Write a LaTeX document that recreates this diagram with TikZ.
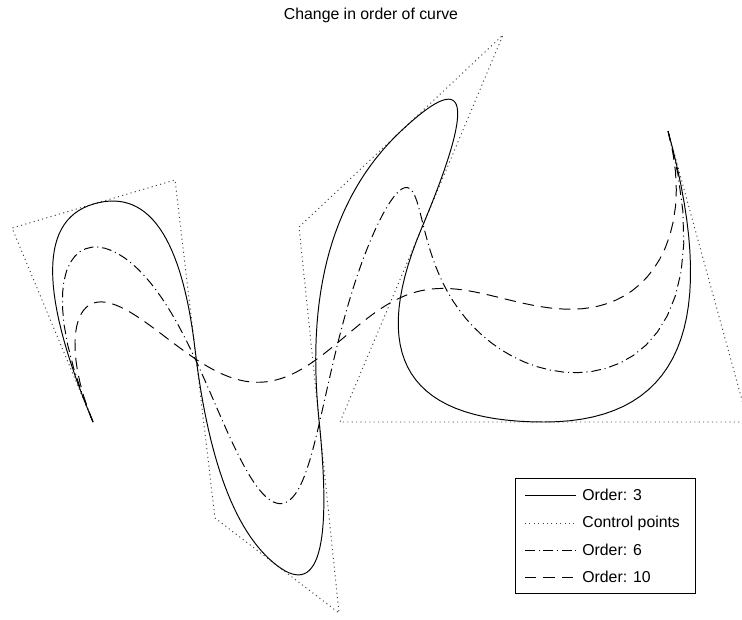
\documentclass[tikz,border=0pt]{standalone}
\usepackage{fontspec}
\setmainfont{Liberation Sans}
\ExplSyntaxOn
\fparray_new:Nn \g_bs_knot_fparray {40}
\fparray_new:Nn \g_bs_N_fparray {40}
\fparray_new:Nn \g_bs_px_fparray {10}
\fparray_new:Nn \g_bs_py_fparray {10}
\int_new:N \l_bs_k_int
\fp_new:N \l_bs_t_fp
\fp_new:N \l_bs_tmax_fp
\fp_new:N \l_bs_x_fp
\fp_new:N \l_bs_y_fp
\tl_new:N \l_bs_path_tl
\tl_new:N \l_bs_cmd_tl
\cs_new_protected:Npn \bs_setpt:nnn #1#2#3
  {
    \fparray_gset:Nnn \g_bs_px_fparray {#1} {#2}
    \fparray_gset:Nnn \g_bs_py_fparray {#1} {#3}
  }
\bs_setpt:nnn {1}{93}{422}
\bs_setpt:nnn {2}{12}{228}
\bs_setpt:nnn {3}{175}{180}
\bs_setpt:nnn {4}{215}{518}
\bs_setpt:nnn {5}{339}{613}
\bs_setpt:nnn {6}{299}{227}
\bs_setpt:nnn {7}{503}{35}
\bs_setpt:nnn {8}{340}{422}
\bs_setpt:nnn {9}{748}{422}
\bs_setpt:nnn {10}{668}{131}
\cs_new:Npn \bs_u:n #1 { \fparray_item:Nn \g_bs_knot_fparray { #1 + 1 } }
\cs_new_protected:Npn \bs_update:nn #1#2
  {
    \fparray_gset:Nnn \g_bs_N_fparray {#1 + 1}
      {
        ( \bs_u:n {#1 + #2 - 1} - \bs_u:n {#1} > 0 ) * ( \l_bs_t_fp - \bs_u:n {#1} )
          / max( \bs_u:n {#1 + #2 - 1} - \bs_u:n {#1} , 1 )
          * \fparray_item:Nn \g_bs_N_fparray {#1 + 1}
        +
        ( \bs_u:n {#1 + #2} - \bs_u:n {#1 + 1} > 0 ) * ( \bs_u:n {#1 + #2} - \l_bs_t_fp )
          / max( \bs_u:n {#1 + #2} - \bs_u:n {#1 + 1} , 1 )
          * \fparray_item:Nn \g_bs_N_fparray {#1 + 2}
      }
  }
\cs_new_protected:Npn \bs_level:n #1
  {
    \int_step_inline:nnn {0} {9 + \l_bs_k_int - #1}
      { \bs_update:nn {##1} {#1} }
  }
\cs_new_protected:Npn \bs_basis:
  {
    \int_step_inline:nnn {0} {8 + \l_bs_k_int}
      {
        \fparray_gset:Nnn \g_bs_N_fparray {##1 + 1}
          { ( \l_bs_t_fp >= \bs_u:n {##1} ) * ( \l_bs_t_fp < \bs_u:n {##1 + 1} ) }
      }
    \int_step_inline:nnn {2} {\l_bs_k_int}
      { \bs_level:n {##1} }
  }
\cs_new_protected:Npn \bs_point:
  {
    \fp_zero:N \l_bs_x_fp
    \fp_zero:N \l_bs_y_fp
    \int_step_inline:nnn {1} {10}
      {
        \fp_add:Nn \l_bs_x_fp
          { \fparray_item:Nn \g_bs_N_fparray {##1} * \fparray_item:Nn \g_bs_px_fparray {##1} }
        \fp_add:Nn \l_bs_y_fp
          { \fparray_item:Nn \g_bs_N_fparray {##1} * \fparray_item:Nn \g_bs_py_fparray {##1} }
      }
  }
\cs_new_protected:Npn \bs_compute:nn #1#2
  {
    \int_set:Nn \l_bs_k_int {#1}
    \int_step_inline:nnn {0} {9 + #1}
      {
        \fparray_gset:Nnn \g_bs_knot_fparray {##1 + 1}
          { \int_min:nn { \int_max:nn {0} {##1 - #1 + 1} } {11 - #1} }
      }
    \fp_set:Nn \l_bs_tmax_fp {11 - #1}
    \tl_clear:N \l_bs_path_tl
    \int_step_inline:nnn {0} {#2}
      {
        \fp_set:Nn \l_bs_t_fp { min( ##1 / #2 * \l_bs_tmax_fp , \l_bs_tmax_fp - 0.000001 ) }
        \bs_basis:
        \bs_point:
        \tl_put_right:Nx \l_bs_path_tl
          {
            \int_compare:nNnF {##1} = {0} { -- }
            ( \fp_eval:n { round(\l_bs_x_fp, 2) } , \fp_eval:n { round(\l_bs_y_fp, 2) } )
          }
      }
  }
\NewDocumentCommand \bsdraw { m m m }
  {
    \bs_compute:nn {#1} {#3}
    \tl_set:Nx \l_bs_cmd_tl
      { \exp_not:N \draw [ \exp_not:n {#2} ] \exp_not:V \l_bs_path_tl ; }
    \tl_use:N \l_bs_cmd_tl
  }
\ExplSyntaxOff
\tikzset{
  solidcurve/.style={line width=0.55pt, line join=round},
  dotcurve/.style={line width=0.55pt, black!75, dash pattern=on 0.6pt off 1.9pt},
  dashdotcurve/.style={line width=0.55pt, dash pattern=on 5.5pt off 2.2pt on 0.6pt off 2.2pt},
  dashcurve/.style={line width=0.55pt, dash pattern=on 6.5pt off 4pt},
  legtext/.style={anchor=west, inner sep=0pt, font=\fontsize{9}{10}\selectfont},
}
\begin{document}
\begin{tikzpicture}[x=0.02cm, y=-0.02cm]
\useasboundingbox (0,0) rectangle (742,619);
\begin{scope}
\clip (0,0) rectangle (742,619);
\coordinate (p0) at (93,422);
\coordinate (p1) at (12,228);
\coordinate (p2) at (175,180);
\coordinate (p3) at (215,518);
\coordinate (p4) at (339,613);
\coordinate (p5) at (299,227);
\coordinate (p6) at (503,35);
\coordinate (p7) at (340,422);
\coordinate (p8) at (748,422);
\coordinate (p9) at (668,131);
\draw[dotcurve] (p0) -- (p1) -- (p2) -- (p3) -- (p4) -- (p5) -- (p6) -- (p7) -- (p8) -- (p9);
\bsdraw{3}{solidcurve}{240}
\bsdraw{6}{dashdotcurve}{160}
\bsdraw{10}{dashcurve}{120}
\end{scope}
\node[font=\fontsize{9}{10}\selectfont] (title) at (371,15) {Change in order of curve};
% legend
\node[draw, line width=0.55pt, minimum width=180*0.02cm, minimum height=115*0.02cm, anchor=north west, inner sep=0pt, fill=white] (legend) at (515,478) {};
\coordinate (l1a) at (525,495); \coordinate (l1b) at (576,495);
\coordinate (l2a) at (525,523); \coordinate (l2b) at (576,523);
\coordinate (l3a) at (525,550); \coordinate (l3b) at (576,550);
\coordinate (l4a) at (525,577); \coordinate (l4b) at (576,577);
\draw[solidcurve] (l1a) -- (l1b);
\draw[dotcurve] (l2a) -- (l2b);
\draw[dashdotcurve] (l3a) -- (l3b);
\draw[dashcurve] (l4a) -- (l4b);
\node[legtext] (t1) at (582,495) {Order: 3};
\node[legtext] (t2) at (582,523) {Control points};
\node[legtext] (t3) at (582,550) {Order: 6};
\node[legtext] (t4) at (582,577) {Order: 10};
\end{tikzpicture}
\end{document}
